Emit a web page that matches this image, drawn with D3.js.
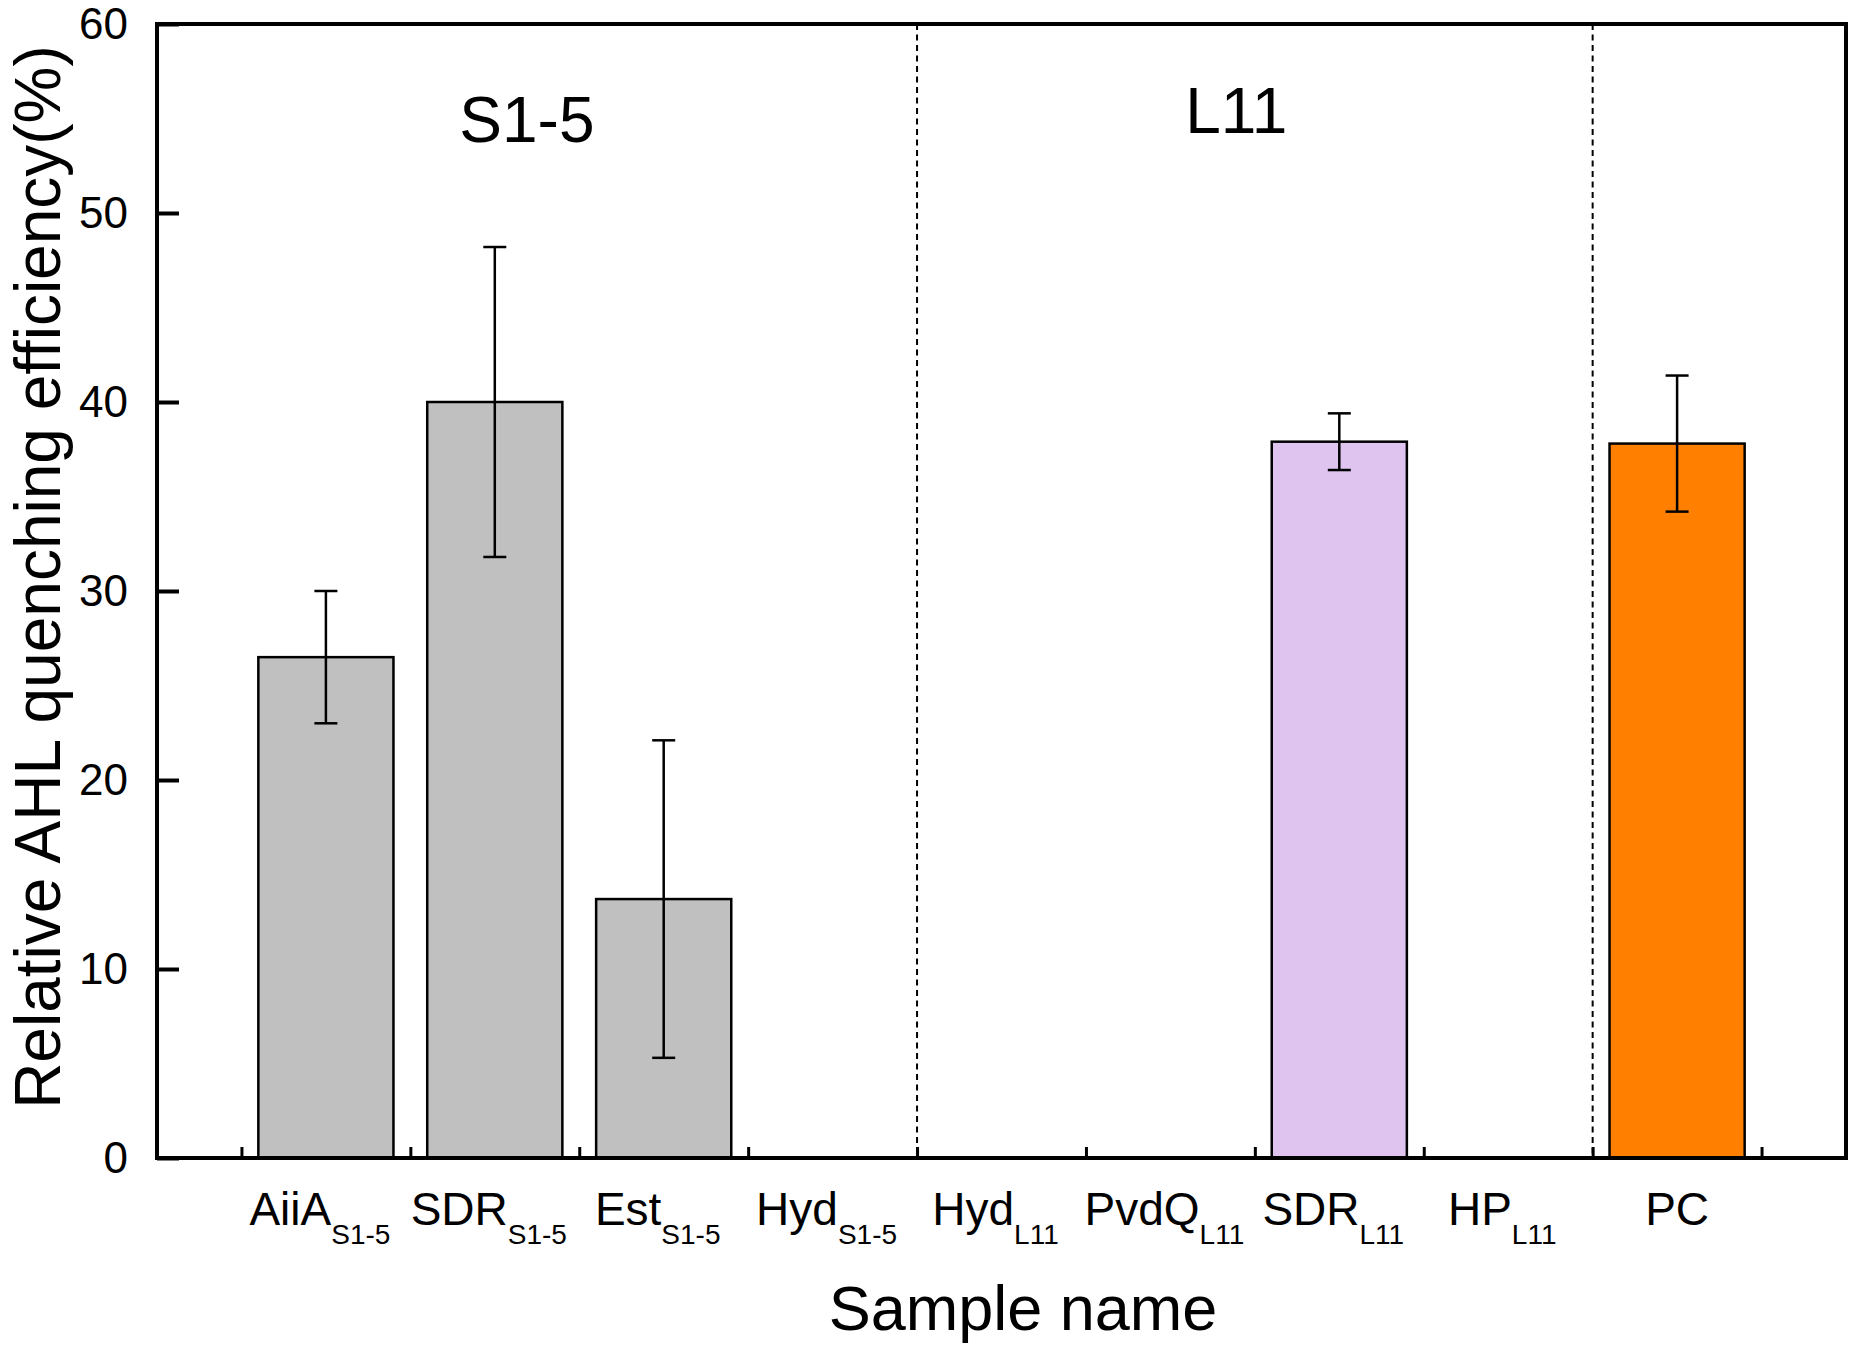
<!DOCTYPE html>
<html>
<head>
<title>Relative AHL quenching efficiency</title>
<meta charset="utf-8" />
<style>
html, body{
	margin: 0px;
	padding: 0px;
	background: #fff;
}
text{
	font-family: "Liberation Sans", Arial, sans-serif;
	fill: #000;
}
</style>
</head>
<body>

<svg id="chart" width="1855" height="1345"></svg>

<script src="https://d3js.org/d3.v7.min.js"></script>
<script>

// data
var names      = ["AiiA", "SDR", "Est", "Hyd", "Hyd", "PvdQ", "SDR", "HP", "PC"];
var subs       = ["S1-5", "S1-5", "S1-5", "S1-5", "L11", "L11", "L11", "L11", ""];
var groups     = ["S1-5", "S1-5", "S1-5", "S1-5", "L11", "L11", "L11", "L11", "PC"];
var values     = [26.5, 40.0, 13.7, 0, 0, 0, 37.9, 0, 37.8];
var errors     = [3.5, 8.2, 8.4, 0, 0, 0, 1.5, 0, 3.6];
var yTicks     = [0, 10, 20, 30, 40, 50, 60];
var separators = [4.5, 8.5];     // between Hyd S1-5 / Hyd L11 and HP / PC
var groupLabels = [
	{text: "S1-5", pos: 2.19, dy: 142},
	{text: "L11",  pos: 6.39, dy: 133}
];

var rows = names.map(function(n, i){
	return {name: n, sub: subs[i], group: groups[i], value: values[i], err: errors[i], pos: i + 1};
});

var margin = {left: 157, right: 9, top: 24, bottom: 187};
var W = 1855, H = 1345;
var w = W - margin.left - margin.right;
var h = H - margin.top - margin.bottom;

var svg = d3.select("#chart");
var g = svg.append("g").attr("transform", "translate(" + margin.left + "," + margin.top + ")");

// slots: category i sits at i+1, domain 0..10
var x = d3.scaleLinear().domain([0, 10]).range([0, w]);
var y = d3.scaleLinear().domain([0, 60]).range([h, 0]);
var slot = x(1) - x(0);
var barW = slot * 0.8;

var color = d3.scaleOrdinal()
	.domain(["S1-5", "L11", "PC"])
	.range(["#c0c0c0", "#dfc4f0", "#ff8000"]);

// dashed separators
g.selectAll("line.sep")
	.data(separators)
	.enter()
	.append("line")
		.attr("class", "sep")
		.attr("x1", function(d){ return x(d); })
		.attr("x2", function(d){ return x(d); })
		.attr("y1", 0)
		.attr("y2", h)
		.attr("stroke", "#000")
		.attr("stroke-width", 2)
		.attr("stroke-dasharray", "6,4.5");

// bars
g.selectAll("rect.bar")
	.data(rows.filter(function(d){ return d.value > 0; }))
	.enter()
	.append("rect")
		.attr("class", "bar")
		.attr("x", function(d){ return x(d.pos) - barW / 2; })
		.attr("y", function(d){ return y(d.value); })
		.attr("width", barW)
		.attr("height", function(d){ return y(0) - y(d.value); })
		.attr("fill", function(d){ return color(d.group); })
		.attr("stroke", "#000")
		.attr("stroke-width", 2.5);

// error bars
var eb = g.selectAll("g.err")
	.data(rows.filter(function(d){ return d.err > 0; }))
	.enter()
	.append("g")
		.attr("class", "err")
		.attr("stroke", "#000")
		.attr("stroke-width", 2.5);

eb.append("line")
	.attr("x1", function(d){ return x(d.pos); })
	.attr("x2", function(d){ return x(d.pos); })
	.attr("y1", function(d){ return y(d.value + d.err); })
	.attr("y2", function(d){ return y(d.value - d.err); });

[1, -1].forEach(function(s){
	eb.append("line")
		.attr("x1", function(d){ return x(d.pos) - 11.5; })
		.attr("x2", function(d){ return x(d.pos) + 11.5; })
		.attr("y1", function(d){ return y(d.value + s * d.err); })
		.attr("y2", function(d){ return y(d.value + s * d.err); });
});

// y axis, ticks inside
var yAxis = g.append("g")
	.call(d3.axisLeft(y).tickValues(yTicks).tickSize(-22).tickPadding(29).tickSizeOuter(0));
yAxis.selectAll("line").attr("stroke-width", 4);
yAxis.selectAll("text").style("font-size", "44px").attr("dy", "0.34em");
yAxis.select(".domain").remove();

// x axis, short ticks at slot boundaries
var bounds = d3.range(0.5, 10, 1);
var xAxis = g.append("g")
	.attr("transform", "translate(0," + h + ")")
	.call(d3.axisBottom(x).tickValues(bounds).tickSize(-11).tickFormat("").tickSizeOuter(0));
xAxis.selectAll("line").attr("stroke-width", 3);
xAxis.select(".domain").remove();

// frame
g.append("rect")
	.attr("x", 0).attr("y", 0)
	.attr("width", w).attr("height", h)
	.attr("fill", "none")
	.attr("stroke", "#000")
	.attr("stroke-width", 4);

// category labels with subscripts
var lab = g.selectAll("text.cat")
	.data(rows)
	.enter()
	.append("text")
		.attr("class", "cat")
		.attr("x", function(d){ return x(d.pos) - (d.sub ? 6 : 0); })
		.attr("y", h + 67)
		.attr("text-anchor", "middle")
		.style("font-size", "46px");
lab.append("tspan").text(function(d){ return d.name; });
lab.append("tspan")
	.attr("dy", 19)
	.style("font-size", "28px")
	.text(function(d){ return d.sub; });

// group labels
g.selectAll("text.grp")
	.data(groupLabels)
	.enter()
	.append("text")
		.attr("class", "grp")
		.attr("x", function(d){ return x(d.pos); })
		.attr("y", function(d){ return d.dy - margin.top; })
		.attr("text-anchor", "middle")
		.style("font-size", "64px")
		.text(function(d){ return d.text; });

// axis titles
svg.append("text")
	.attr("transform", "translate(60,577) rotate(-90)")
	.attr("text-anchor", "middle")
	.style("font-size", "64px")
	.text("Relative AHL quenching efficiency(%)");

svg.append("text")
	.attr("x", 1023)
	.attr("y", 1330)
	.attr("text-anchor", "middle")
	.style("font-size", "63px")
	.text("Sample name");

</script>
</body>
</html>
